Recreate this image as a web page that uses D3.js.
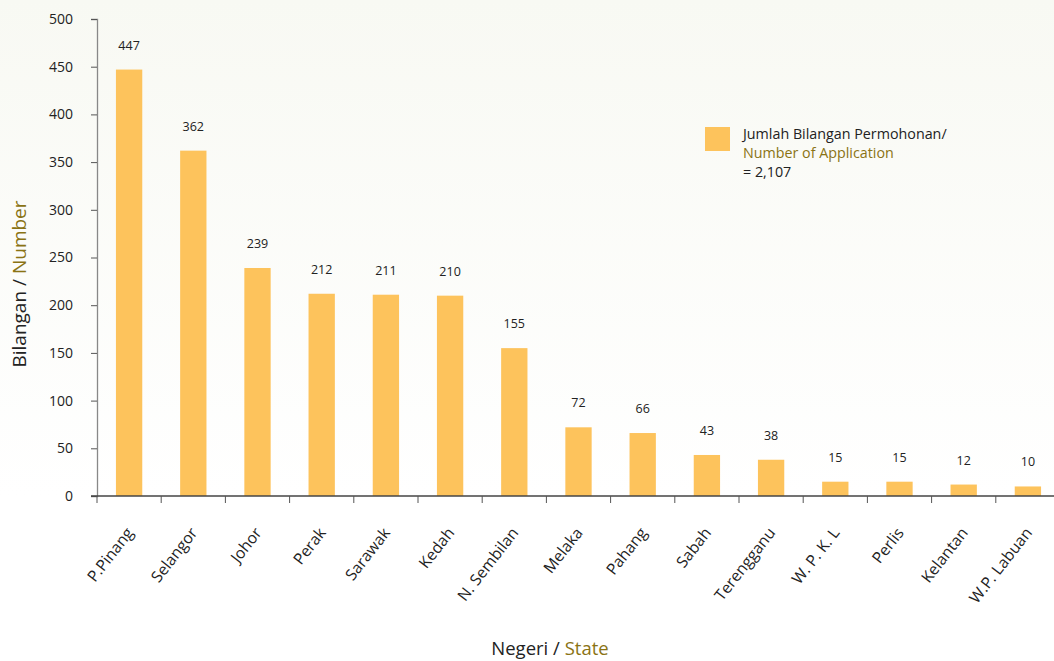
<!DOCTYPE html>
<html>
<head>
<meta charset="utf-8">
<script src="https://cdn.jsdelivr.net/npm/d3@7"></script>
<style>
  html, body { margin: 0; padding: 0; background: #fff; }
  svg { display: block; font-family: "Open Sans", "Noto Sans", sans-serif; }
</style>
</head>
<body>
<svg id="chart" width="1054" height="661"></svg>
<script>
// Applications by state
const states = ["P.Pinang", "Selangor", "Johor", "Perak", "Sarawak", "Kedah", "N. Sembilan",
  "Melaka", "Pahang", "Sabah", "Terengganu", "W. P. K. L", "Perlis", "Kelantan", "W.P. Labuan"];
const applications = [447, 362, 239, 212, 211, 210, 155, 72, 66, 43, 38, 15, 15, 12, 10];
const yTicks = [0, 50, 100, 150, 200, 250, 300, 350, 400, 450, 500];
const totalLabel = "= 2,107";

const svg = d3.select("#chart");
const W = 1054, H = 661;

// soft background wash
const defs = svg.append("defs");
const grad = defs.append("linearGradient").attr("id", "bg").attr("x1", 0).attr("y1", 0).attr("x2", 0).attr("y2", 1);
grad.append("stop").attr("offset", "0%").attr("stop-color", "#f8f9f3");
grad.append("stop").attr("offset", "75%").attr("stop-color", "#ffffff");
svg.append("rect").attr("width", W).attr("height", H).attr("fill", "url(#bg)");

const x0 = 97, yBase = 496, yTop = 19, band = 64.2;
const x = d3.scaleBand().domain(states).range([x0, x0 + band * states.length]).padding(0);
const y = d3.scaleLinear().domain([0, 500]).range([yBase, yTop]);

const barColor = "#fdc35c";
const barW = x.bandwidth() * 0.41;

// bars
svg.append("g").selectAll("rect").data(states).join("rect")
  .attr("x", (d) => x(d) + x.bandwidth() / 2 - barW / 2)
  .attr("y", (d, i) => y(applications[i]))
  .attr("width", barW)
  .attr("height", (d, i) => yBase - y(applications[i]))
  .attr("fill", barColor);

// value labels
svg.append("g").selectAll("text").data(states).join("text")
  .attr("x", (d) => x(d) + x.bandwidth() / 2)
  .attr("y", (d, i) => y(applications[i]) - 20)
  .attr("text-anchor", "middle")
  .attr("font-size", 12.5)
  .attr("fill", "#222")
  .text((d, i) => applications[i]);

// y axis
const yAxis = svg.append("g").attr("transform", `translate(${x0},0)`)
  .call(d3.axisLeft(y).tickValues(yTicks).tickSize(6).tickPadding(18));
yAxis.select(".domain").attr("stroke", "#888").attr("stroke-width", 1.3);
yAxis.selectAll(".tick line").attr("stroke", "#555");
yAxis.selectAll(".tick text").attr("font-size", 14).attr("fill", "#222")
  .attr("font-family", "'Open Sans', sans-serif");

// x axis: ticks at band boundaries
const xAxisG = svg.append("g");
xAxisG.append("line").attr("x1", x0 - 6).attr("x2", W).attr("y1", yBase).attr("y2", yBase)
  .attr("stroke", "#444").attr("stroke-width", 1.3);
xAxisG.selectAll("line.tk").data(states).join("line").attr("class", "tk")
  .attr("x1", (d) => x(d)).attr("x2", (d) => x(d))
  .attr("y1", yBase).attr("y2", yBase + 7)
  .attr("stroke", "#555").attr("stroke-width", 1);

// rotated category labels
xAxisG.selectAll("text").data(states).join("text")
  .attr("transform", (d) => `translate(${x(d) + x.bandwidth() / 2 + 5},${yBase + 37}) rotate(-52)`)
  .attr("text-anchor", "end")
  .attr("font-size", 15.7)
  .attr("fill", "#222")
  .text((d) => d);

// axis titles
const olive = "#8a7314";
const yt = svg.append("text")
  .attr("transform", "translate(26,284) rotate(-90)")
  .attr("text-anchor", "middle").attr("font-size", 19).attr("fill", "#222");
yt.append("tspan").text("Bilangan / ");
yt.append("tspan").attr("fill", olive).text("Number");

const xt = svg.append("text")
  .attr("x", 550).attr("y", 655)
  .attr("text-anchor", "middle").attr("font-size", 18.5).attr("fill", "#222");
xt.append("tspan").text("Negeri / ");
xt.append("tspan").attr("fill", olive).text("State");

// legend
const lg = svg.append("g");
lg.append("rect").attr("x", 705).attr("y", 127).attr("width", 25).attr("height", 24).attr("fill", barColor);
const lt = lg.append("text").attr("font-size", 14.3).attr("fill", "#222");
lt.append("tspan").attr("x", 743).attr("y", 139).text("Jumlah Bilangan Permohonan/");
lt.append("tspan").attr("x", 743).attr("y", 158).attr("fill", olive).text("Number of Application");
lt.append("tspan").attr("x", 743).attr("y", 177).text(totalLabel);
</script>
</body>
</html>
